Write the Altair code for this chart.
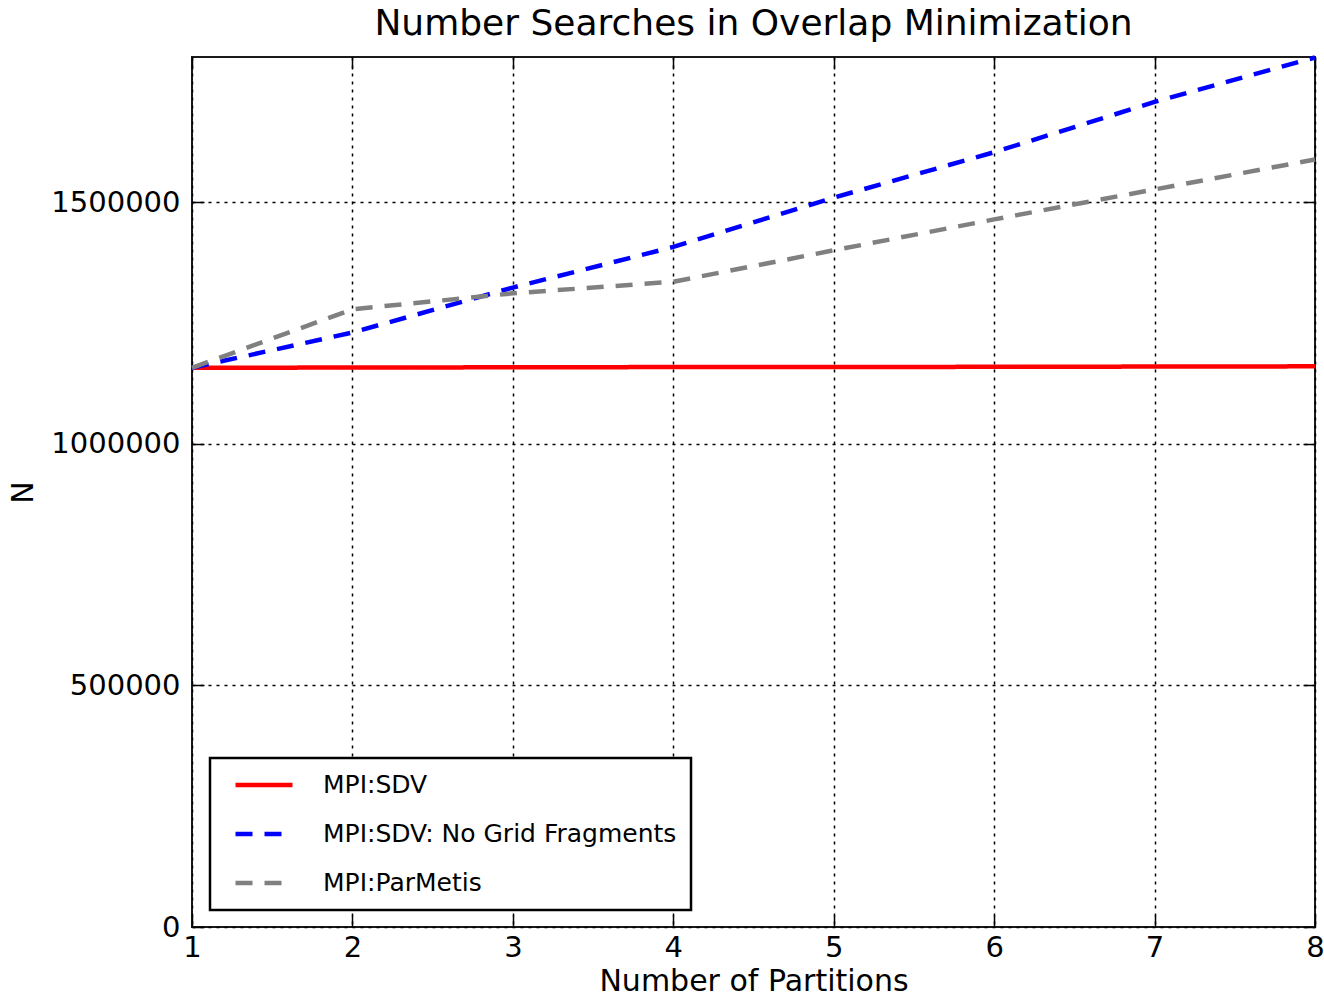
import altair as alt
import pandas as pd

# ---- data ----
partitions = [1, 2, 3, 4, 5, 6, 7, 8]
sdv = [1157000, 1157500, 1158000, 1158500, 1158500, 1159000, 1159500, 1160000]
sdv_no_grid = [1157000, 1230000, 1323000, 1407000, 1509000, 1603000, 1707000, 1799000]
parmetis = [1157000, 1278000, 1311000, 1335000, 1400000, 1464000, 1526000, 1588000]

series_names = ["MPI:SDV", "MPI:SDV: No Grid Fragments", "MPI:ParMetis"]
series_colors = ["#ff0000", "#0000ff", "#808080"]
series_dashes = [[1, 0], [17, 12], [17, 12]]

x_ticks = [1, 2, 3, 4, 5, 6, 7, 8]
y_ticks = [0, 500000, 1000000, 1500000]

rows = []
for name, vals in zip(series_names, [sdv, sdv_no_grid, parmetis]):
    for xv, v in zip(partitions, vals):
        rows.append({"x": xv, "N": v, "series": name})
df = pd.DataFrame(rows)

FONT = "DejaVu Sans"

legend = alt.Legend(
    title=None,
    orient="none",
    legendX=18,
    legendY=701,
    padding=14,
    fillColor="white",
    strokeColor="black",
    symbolType="stroke",
    symbolSize=3249,
    symbolStrokeWidth=4.5,
    symbolOffset=9,
    labelOffset=28,
    labelFontSize=25,
    labelFont=FONT,
    labelColor="black",
    labelLimit=600,
    rowPadding=23,
    clipHeight=26,
)

xscale = alt.Scale(domain=[1, 8], nice=False, zero=False)
yscale = alt.Scale(domain=[0, 1800000], nice=False)

main = alt.Chart(df).mark_line(strokeWidth=4.5).encode(
    x=alt.X(
        "x:Q",
        scale=xscale,
        axis=alt.Axis(
            orient="bottom", values=x_ticks, format="d", title="Number of Partitions",
            offset=-12, tickSize=12, tickWidth=1.5, tickColor="black", domain=False,
            labelFlush=False, labelPadding=6, labelFontSize=29, labelFont=FONT,
            labelColor="black", titleFontSize=30, titleFont=FONT, titleColor="black",
            titleFontWeight="normal", titlePadding=4,
            grid=True, gridDash=[3, 5], gridColor="black", gridWidth=1.5, gridOpacity=1,
        ),
    ),
    y=alt.Y(
        "N:Q",
        scale=yscale,
        axis=alt.Axis(
            orient="left", values=y_ticks, format="d", title="N",
            offset=-12, tickSize=12, tickWidth=1.5, tickColor="black", domain=False,
            labelFlush=False, labelPadding=12, labelFontSize=29, labelFont=FONT,
            labelColor="black", titleFontSize=30, titleFont=FONT, titleColor="black",
            titleFontWeight="normal", titlePadding=12,
            grid=True, gridDash=[3, 5], gridColor="black", gridWidth=1.5, gridOpacity=1,
        ),
    ),
    color=alt.Color("series:N", scale=alt.Scale(domain=series_names, range=series_colors), legend=legend),
    strokeDash=alt.StrokeDash("series:N", scale=alt.Scale(domain=series_names, range=series_dashes), legend=legend),
    order=alt.Order("x:Q"),
)

ticks_layer = alt.Chart(df).mark_line(opacity=0).encode(
    x=alt.X(
        "x:Q",
        scale=xscale,
        axis=alt.Axis(orient="top", values=x_ticks, labels=False, title=None, offset=-12,
                      tickSize=12, tickWidth=1.5, tickColor="black", domain=False, grid=False,
                      minExtent=0, maxExtent=0),
    ),
    y=alt.Y(
        "N:Q",
        scale=yscale,
        axis=alt.Axis(orient="right", values=y_ticks, labels=False, title=None, offset=-12,
                      tickSize=12, tickWidth=1.5, tickColor="black", domain=False, grid=False,
                      minExtent=0, maxExtent=0),
    ),
    detail="series:N",
)

chart = (
    alt.layer(main, ticks_layer)
    .resolve_axis(x="independent", y="independent")
    .properties(
        width=1123,
        height=870,
        autosize=alt.AutoSizeParams(type="none"),
        padding={"left": 192, "top": 57, "right": 9, "bottom": 69},
        title=alt.TitleParams(
            "Number Searches in Overlap Minimization",
            fontSize=36, font=FONT, fontWeight="normal", color="black",
            anchor="middle", frame="group", offset=5,
        ),
        background="white",
    )
    .configure_view(stroke="#1a1a1a", strokeWidth=2)
    .configure_legend(strokeWidth=2.5)
)

chart.save("out.html", embed_options={"renderer": "svg", "actions": False})
